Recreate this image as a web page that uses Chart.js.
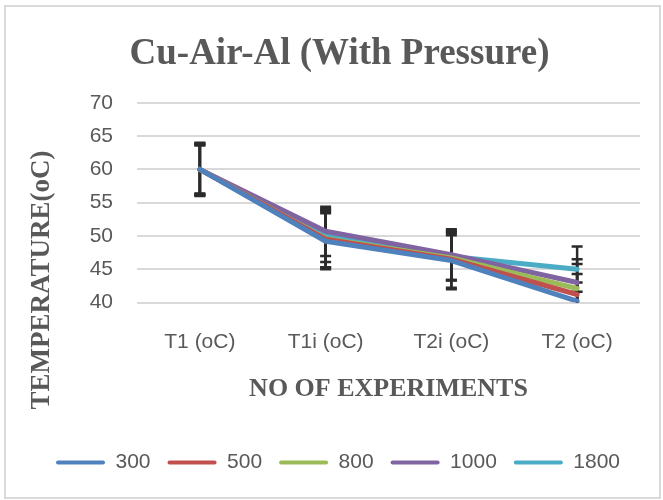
<!DOCTYPE html>
<html>
<head>
<meta charset="utf-8">
<script src="https://cdn.jsdelivr.net/npm/chart.js@4.4.1/dist/chart.umd.min.js"></script>
<style>
  html, body { margin: 0; padding: 0; background: #fff; }
  #wrap { position: relative; width: 663px; height: 500px; }
  #frame { position: absolute; left: 4px; top: 5px; width: 653px; height: 490px; border: 2px solid #d9d9d9; pointer-events: none; }
  canvas { position: absolute; left: 0; top: 0; }
</style>
</head>
<body>
<div id="wrap">
  <canvas id="chart" width="663" height="500"></canvas>
  <div id="frame"></div>
</div>
<script>
// categories on the x axis
const categories = ['T1 (oC)', 'T1i (oC)', 'T2i (oC)', 'T2 (oC)'];

// series values
const seriesNames = ['300', '500', '800', '1000', '1800'];
const values300  = [60, 49.2, 46.3, 40.2];
const values500  = [60, 49.5, 46.5, 41.2];
const values800  = [60, 49.6, 46.7, 42.1];
const values1000 = [60, 50.7, 47.2, 43.0];
const values1800 = [60, 50.1, 46.9, 45.0];

// +/- error amounts per point
const errors300  = [3.6, 4.2, 4.3, 2.8];
const errors500  = [3.7, 4.2, 4.3, 3.1];
const errors800  = [3.8, 4.3, 3.4, 3.7];
const errors1000 = [3.9, 3.7, 3.8, 3.5];
const errors1800 = [4.0, 4.0, 3.5, 3.4];

// y axis ticks
const yMin = 40;
const yMax = 70;
const yStep = 5;

const colors = ['#4f81bd', '#c0504d', '#9bbb59', '#8064a2', '#4bacc6'];
const allValues = [values300, values500, values800, values1000, values1800];
const allErrors = [errors300, errors500, errors800, errors1000, errors1800];

const textGray = '#595959';
const sansFont = "'Liberation Sans', Arial, sans-serif";
const serifFont = "'Liberation Serif', 'Times New Roman', serif";

// Excel-style error bars, drawn through the chart's own scales
const errorBars = {
    id: 'errorBars',
    beforeDatasetsDraw(chart) {
        const { ctx, chartArea, scales } = chart;
        ctx.save();
        ctx.beginPath();
        ctx.rect(chartArea.left, chartArea.top - 2, chartArea.right - chartArea.left, chartArea.bottom - chartArea.top + 2);
        ctx.clip();
        ctx.strokeStyle = '#2b2b2b';
        ctx.lineWidth = 2.5;
        chart.data.datasets.forEach(ds => {
            ds.data.forEach((v, j) => {
                const err = ds.errors[j];
                const x = scales.x.getPixelForValue(j);
                const yHi = scales.y.getPixelForValue(v + err);
                const yLo = scales.y.getPixelForValue(v - err);
                ctx.beginPath();
                ctx.moveTo(x, yHi);
                ctx.lineTo(x, yLo);
                ctx.moveTo(x - 5.5, yHi);
                ctx.lineTo(x + 5.5, yHi);
                ctx.moveTo(x - 5.5, yLo);
                ctx.lineTo(x + 5.5, yLo);
                ctx.stroke();
            });
        });
        ctx.restore();
    }
};

// y axis title sits lower than the plot centre in the original
const yTitle = {
    id: 'yTitle',
    afterDraw(chart) {
        const { ctx } = chart;
        ctx.save();
        ctx.translate(42, 280);
        ctx.rotate(-Math.PI / 2);
        ctx.font = 'bold 27px ' + serifFont;
        ctx.fillStyle = textGray;
        ctx.textAlign = 'center';
        ctx.textBaseline = 'middle';
        ctx.fillText('TEMPERATURE(oC)', 0, 0);
        ctx.restore();
    }
};

const datasets = seriesNames.map((name, i) => ({
    label: name,
    data: allValues[i],
    errors: allErrors[i],
    borderColor: colors[i],
    backgroundColor: colors[i],
    borderWidth: 5,
    borderCapStyle: 'round',
    borderJoinStyle: 'round',
    pointRadius: 0,
    tension: 0
}));

new Chart(document.getElementById('chart'), {
    type: 'line',
    data: { labels: categories, datasets: datasets },
    options: {
        responsive: false,
        animation: false,
        devicePixelRatio: 1,
        layout: { padding: { left: 39, right: 23, top: 0, bottom: 17 } },
        plugins: {
            title: {
                display: true,
                text: 'Cu-Air-Al (With Pressure)',
                color: textGray,
                font: { family: serifFont, size: 37, weight: 'bold' },
                padding: { top: 32, bottom: 26.5 }
            },
            legend: {
                position: 'bottom',
                align: 'start',
                labels: {
                    color: textGray,
                    font: { family: sansFont, size: 21 },
                    boxWidth: 49,
                    boxHeight: 4,
                    padding: 17,
                    useBorderRadius: true,
                    borderRadius: 2,
                    generateLabels(chart) {
                        return Chart.defaults.plugins.legend.labels.generateLabels(chart)
                            .map(l => ({ ...l, lineWidth: 0, fillStyle: l.strokeStyle }));
                    }
                }
            },
            tooltip: { enabled: false }
        },
        scales: {
            x: {
                offset: true,
                grid: { display: false, drawTicks: false },
                border: { display: false },
                ticks: {
                    color: textGray,
                    font: { family: sansFont, size: 21 },
                    padding: 27,
                    maxRotation: 0
                },
                title: {
                    display: true,
                    text: 'NO OF EXPERIMENTS',
                    color: textGray,
                    font: { family: serifFont, size: 26, weight: 'bold' },
                    padding: { top: 0, bottom: 30 }
                },
                afterFit(scale) { scale.height = 132.5; }
            },
            y: {
                min: yMin,
                max: yMax,
                grid: { color: '#d9d9d9', lineWidth: 2, drawTicks: false },
                border: { display: false },
                ticks: {
                    stepSize: yStep,
                    color: textGray,
                    font: { family: sansFont, size: 21 },
                    padding: 24
                },
                afterFit(scale) { scale.width = 98; }
            }
        }
    },
    plugins: [errorBars, yTitle]
});
</script>
</body>
</html>
